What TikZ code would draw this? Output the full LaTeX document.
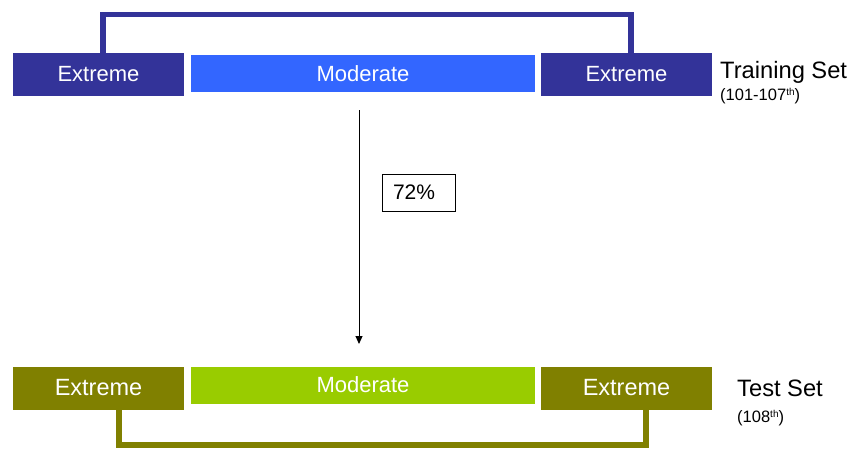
\documentclass[tikz,border=0pt]{standalone}
\usepackage{fontspec}
\setmainfont{Liberation Sans}
\usetikzlibrary{arrows.meta,backgrounds}
\definecolor{navyband}{HTML}{333399}
\definecolor{blueband}{HTML}{3366FF}
\definecolor{oliveband}{HTML}{808000}
\definecolor{limeband}{HTML}{99CC00}
\tikzset{
  band/.style={inner sep=0pt, text=white, minimum width=171pt, minimum height=43pt},
  midband/.style={inner sep=0pt, text=white, minimum width=344pt, minimum height=37pt},
  topfont/.style={font=\fontsize{22}{26}\selectfont},
  botfont/.style={font=\fontsize{23.5}{28}\selectfont},
  setname/.style={anchor=base west, inner sep=0pt, font=\fontsize{23.7}{28}\selectfont},
  setrange/.style={anchor=base west, inner sep=0pt, font=\fontsize{16.5}{20}\selectfont},
  bracket/.style={line width=5.5pt, line join=miter},
  flow/.style={line width=1pt, -{Triangle[length=8pt,width=7pt]}},
  ratebox/.style={draw, line width=0.8pt, inner xsep=11pt, inner ysep=0pt,
    text width=51pt, minimum height=37pt, align=left, font=\fontsize{21}{25}\selectfont}
}
\newcommand{\ordsup}[1]{\raisebox{0.55ex}{\fontsize{10}{10}\selectfont #1}}
\begin{document}
\begin{tikzpicture}[x=1pt, y=-1pt]
  \useasboundingbox (0,0) rectangle (852,448);

  % training row
  \node[band, fill=navyband, topfont] (te1) at (98.5,74.5) {Extreme};
  \node[midband, fill=blueband, topfont] (tm) at (363,73.5) {Moderate};
  \node[band, fill=navyband, topfont] (te2) at (626.5,74.5) {Extreme};
  \node[setname] (tname) at (720,78) {Training Set};
  \node[setrange] (trange) at (720,100) {(101-107\ordsup{th})};

  % test row
  \node[band, fill=oliveband, botfont] (be1) at (98.5,388) {Extreme};
  \node[midband, fill=limeband, topfont] (bm) at (363,385) {Moderate};
  \node[band, fill=oliveband, botfont] (be2) at (626.5,388) {Extreme};
  \node[setname] (bname) at (737,396) {Test Set};
  \node[setrange] (brange) at (737,422) {(108\ordsup{th})};

  % brackets joining the two extreme bands of each row
  \coordinate (tbar) at (367,14.5);
  \coordinate (bbar) at (382,445);
  \begin{pgfonlayer}{background}
    \draw[bracket, navyband] ([xshift=4.5pt]te1.north) |- (tbar) -| ([xshift=4.5pt]te2.north);
    \draw[bracket, oliveband] ([xshift=20.5pt]be1.south) |- (bbar) -| ([xshift=19.5pt]be2.south);
  \end{pgfonlayer}

  % transfer arrow and rate
  \coordinate (arrS) at (359,110);
  \coordinate (arrE) at (359,344);
  \draw[flow] (arrS) -- (arrE);
  \node[ratebox] (rate) at (418.5,192.5) {72\%};
\end{tikzpicture}
\end{document}
